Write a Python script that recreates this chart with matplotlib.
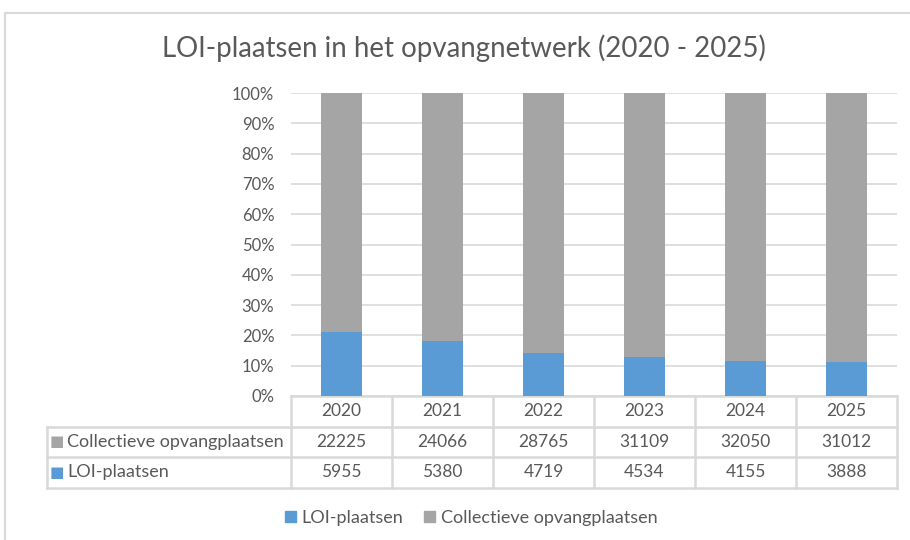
import matplotlib.pyplot as plt
import matplotlib.patches as mpatches
from matplotlib.transforms import blended_transform_factory
import numpy as np

plt.rcParams['font.family'] = ['Lato', 'DejaVu Sans']

years = ['2020', '2021', '2022', '2023', '2024', '2025']
loi = [5955, 5380, 4719, 4534, 4155, 3888]
collectief = [22225, 24066, 28765, 31109, 32050, 31012]
series_names = ['LOI-plaatsen', 'Collectieve opvangplaatsen']

BLUE = '#5B9BD5'
GREY = '#A5A5A5'
TXT = '#595959'
LINE = '#D9D9D9'

loi_a = np.array(loi, dtype=float)
col_a = np.array(collectief, dtype=float)
tot = loi_a + col_a
loi_pct = loi_a / tot
col_pct = col_a / tot

W, H = 910, 540
fig = plt.figure(figsize=(9.1, 5.4), dpi=100, facecolor='white')
ax = fig.add_axes([291 / W, 1 - 396 / H, (897 - 291) / W, (396 - 93) / H])

x = np.arange(len(years))
ax.bar(x, loi_pct, width=0.4, color=BLUE, zorder=3, label=series_names[0])
ax.bar(x, col_pct, bottom=loi_pct, width=0.4, color=GREY, zorder=3, label=series_names[1])

ax.set_xlim(-0.5, len(years) - 0.5)
ax.set_ylim(0, 1)
ax.set_yticks(np.arange(0, 1.01, 0.1))
ax.set_yticklabels([f'{int(round(v * 100))}%' for v in np.arange(0, 1.01, 0.1)])
ax.grid(axis='y', color=LINE, linewidth=1.2, zorder=0)
ax.set_xticks([])
for s in ax.spines.values():
    s.set_visible(False)
ax.tick_params(axis='y', length=0, colors=TXT, labelsize=12, pad=12)

# data table under the plot
tr = blended_transform_factory(ax.transData, ax.transAxes)
row_h = 30.5 / (396 - 93)
left_x = -0.5 - (291 - 47) / 101.0
right_x = len(years) - 0.5
lkw = dict(color=LINE, linewidth=1.8, transform=tr, clip_on=False)

# horizontal lines
ax.plot([-0.5, right_x], [0, 0], **lkw)
for k in (1, 2, 3):
    ax.plot([left_x, right_x], [-k * row_h, -k * row_h], **lkw)
# vertical lines
for b in np.arange(-0.5, len(years), 1.0):
    ax.plot([b, b], [0, -3 * row_h], **lkw)
ax.plot([left_x, left_x], [-row_h, -3 * row_h], **lkw)

NUM_FS = 12.5
NAME_FS = 13
for i, yr in enumerate(years):
    ax.text(i, -0.5 * row_h, yr, transform=tr, ha='center', va='center', fontsize=NUM_FS, color=TXT)
    ax.text(i, -1.5 * row_h, str(collectief[i]), transform=tr, ha='center', va='center', fontsize=NUM_FS, color=TXT)
    ax.text(i, -2.5 * row_h, str(loi[i]), transform=tr, ha='center', va='center', fontsize=NUM_FS, color=TXT)

for k, (name, c) in enumerate([(series_names[1], GREY), (series_names[0], BLUE)]):
    yc = -(1.5 + k) * row_h
    ax.text(left_x + 0.03, yc, '■', transform=tr, ha='left', va='center', fontsize=11, color=c,
            family=['DejaVu Sans'])
    ax.text(left_x + 0.2, yc, name, transform=tr, ha='left', va='center', fontsize=NAME_FS, color=TXT)

fig.suptitle('LOI-plaatsen in het opvangnetwerk (2020 - 2025)', x=464 / W, y=1 - 48 / H,
             va='center', ha='center', fontsize=19.9, color=TXT)

handles = [mpatches.Patch(color=BLUE, label=series_names[0]),
           mpatches.Patch(color=GREY, label=series_names[1])]
fig.legend(handles=handles, loc='center', bbox_to_anchor=(471 / W, 1 - 518 / H), ncol=2,
           frameon=False, fontsize=NAME_FS, labelcolor=TXT, handlelength=0.6, handleheight=0.6,
           handletextpad=0.3, columnspacing=1.2)

# chart area border
fig.patches.append(mpatches.Rectangle((5 / W, -0.1), 1.0, 1.1 - 13 / H, transform=fig.transFigure,
                                      fill=False, edgecolor=LINE, linewidth=1.5))

fig.savefig('out.png', dpi=100, facecolor='white')
